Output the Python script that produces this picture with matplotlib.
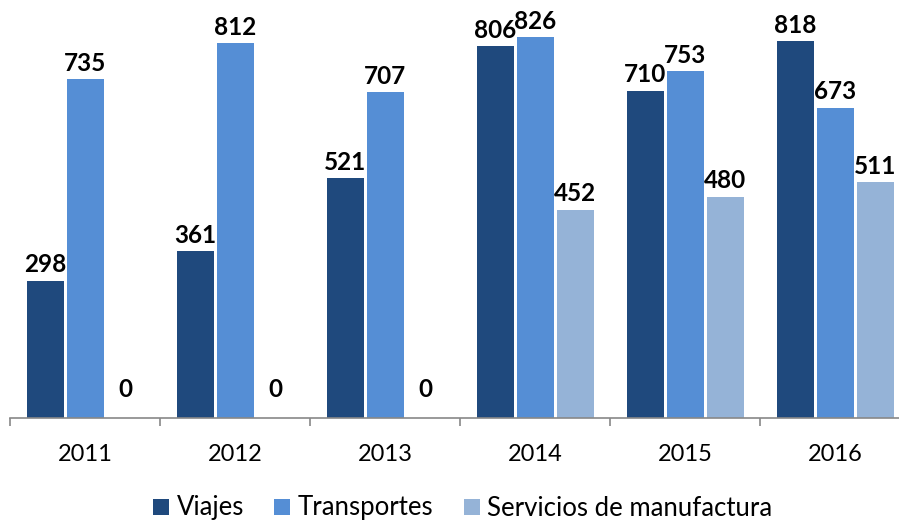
import matplotlib
matplotlib.use("Agg")
import matplotlib.pyplot as plt
from matplotlib.lines import Line2D
import numpy as np

years = ["2011", "2012", "2013", "2014", "2015", "2016"]
series_names = ["Viajes", "Transportes", "Servicios de manufactura"]
viajes = [298, 361, 521, 806, 710, 818]
transportes = [735, 812, 707, 826, 753, 673]
manufactura = [0, 0, 0, 452, 480, 511]
colors = ["#1F497D", "#558ED5", "#95B3D7"]

plt.rcParams['font.family'] = ['Lato', 'DejaVu Sans']

W, H = 899, 522
fig = plt.figure(figsize=(W / 100, H / 100), dpi=100)
base_y = 418
left_px, right_px = 10, 910
ax = fig.add_axes([left_px / W, (H - base_y) / H, (right_px - left_px) / W, base_y / H])

x = np.arange(len(years))
width = 37 / 150
step = 40 / 150
data = [viajes, transportes, manufactura]
for i, (vals, name, c) in enumerate(zip(data, series_names, colors)):
    offs = (i - 1) * step
    ax.bar(x + offs, vals, width=width, color=c, label=name)
    for xi, v in zip(x, vals):
        dy = 3 if v > 0 else 12
        ax.annotate(str(v), (xi + offs, v), xytext=(0, dy), textcoords="offset points",
                    ha="center", va="bottom", fontsize=17.5, fontweight="bold", color="black")

ax.set_xlim(-0.5, len(years) - 0.5)
ax.set_ylim(0, base_y / (381 / 826))
for s in ["top", "right", "left"]:
    ax.spines[s].set_visible(False)
ax.spines["bottom"].set_color("#888888")
ax.spines["bottom"].set_linewidth(1.2)
ax.set_yticks([])
ax.set_xticks(np.arange(-0.5, len(years), 1.0))
ax.set_xticklabels([])
ax.set_xticks(x, minor=True)
ax.set_xticklabels(years, minor=True, fontsize=17)
ax.tick_params(axis="x", which="major", length=6, width=1.2, color="#888888", direction="out")
ax.tick_params(axis="x", which="minor", length=0, pad=19)

handles = [Line2D([], [], linestyle="none", marker="s", markersize=11, markerfacecolor=c,
                  markeredgecolor=c, markeredgewidth=0) for c in colors]
leg = fig.legend(handles, series_names, loc="center", bbox_to_anchor=(463 / W, (H - 508) / H), ncol=3,
                 frameon=False, fontsize=18.5, handlelength=0.6, handletextpad=0.3, columnspacing=1.2)

fig.savefig("out.png", dpi=100)
